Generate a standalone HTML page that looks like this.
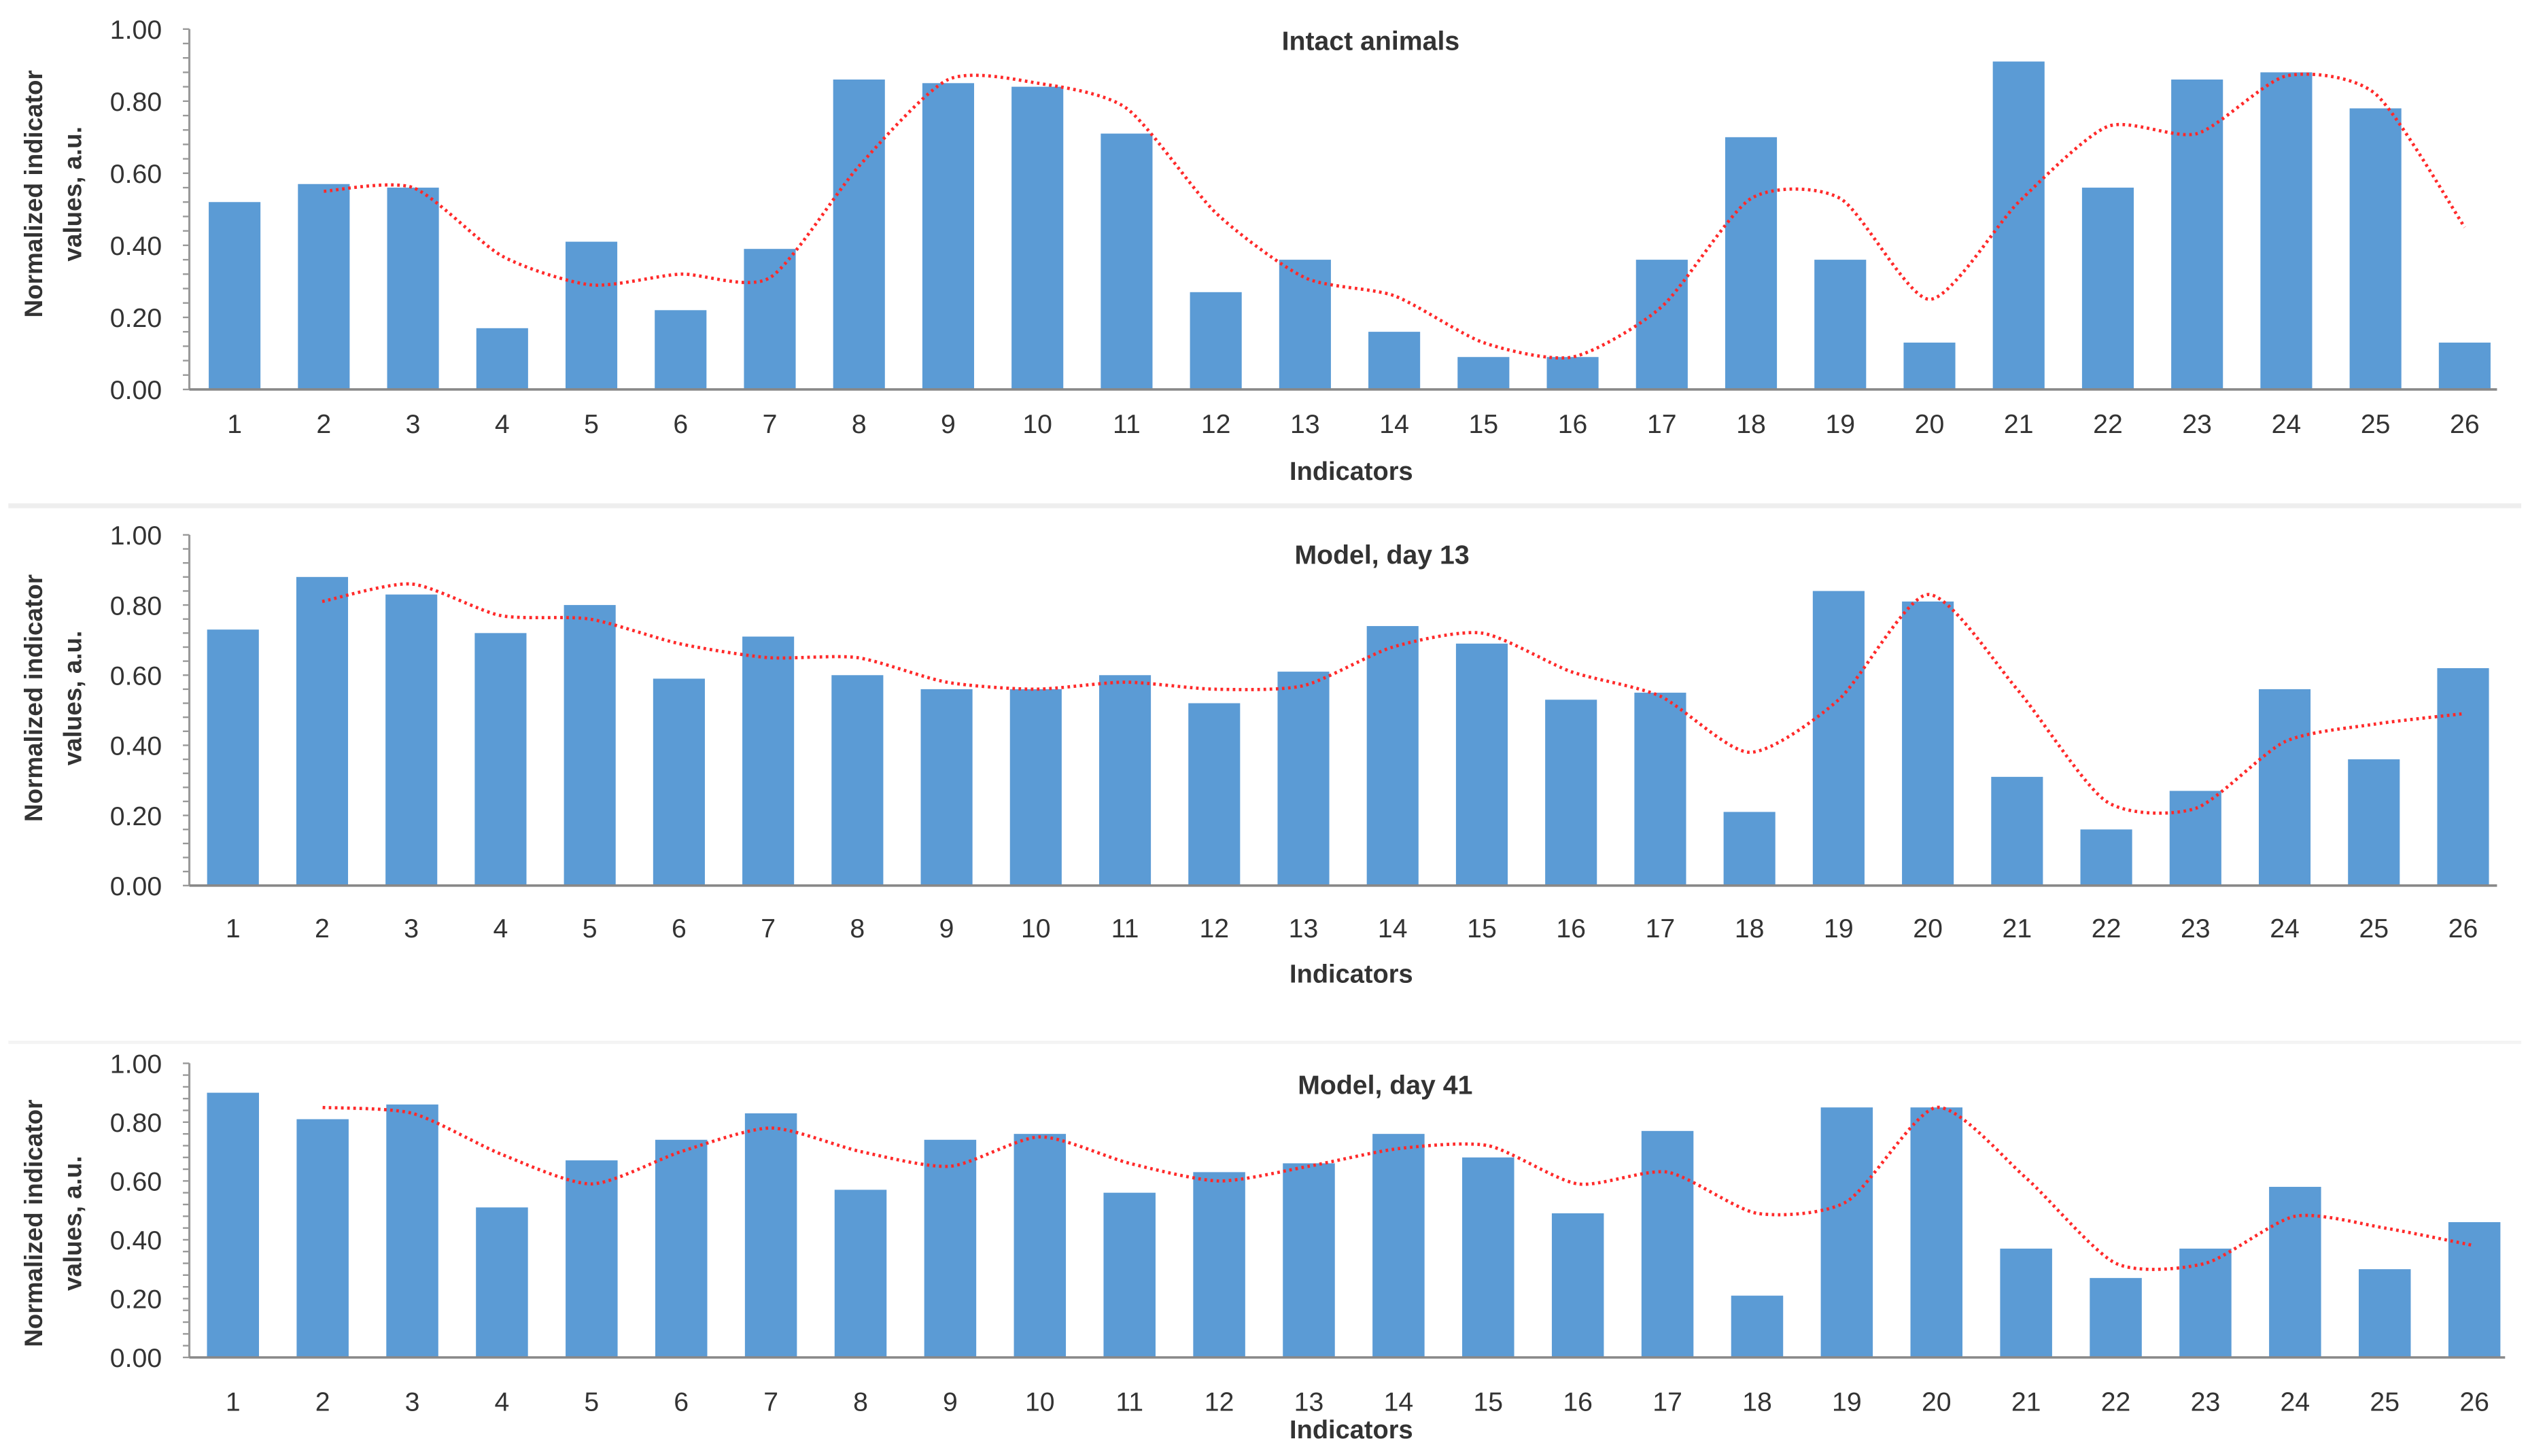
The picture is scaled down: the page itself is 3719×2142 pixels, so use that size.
<!DOCTYPE html>
<html><head><meta charset="utf-8"><style>
html,body{margin:0;padding:0;background:#fff;}
svg{display:block;}
text{font-family:"Liberation Sans",sans-serif;fill:#333;}
</style></head>
<body>
<svg id="chart" width="3719" height="2142" viewBox="0 0 1564 901" xmlns="http://www.w3.org/2000/svg">
<rect x="0" y="0" width="1564" height="901" fill="#fff"/>
<line x1="5" y1="313" x2="1560" y2="313" stroke="#eeeeee" stroke-width="3"/>
<line x1="5" y1="645" x2="1560" y2="645" stroke="#f4f4f4" stroke-width="2"/>
</svg>
<script>
const categories = ["1","2","3","4","5","6","7","8","9","10","11","12","13","14","15","16","17","18","19","20","21","22","23","24","25","26"];
const yTickLabels = ["0.00","0.20","0.40","0.60","0.80","1.00"];
const yTickValues = [0,0.2,0.4,0.6,0.8,1.0];
const titles = ["Intact animals","Model, day 13","Model, day 41"];
const barsIntact = [0.52,0.57,0.56,0.17,0.41,0.22,0.39,0.86,0.85,0.84,0.71,0.27,0.36,0.16,0.09,0.09,0.36,0.70,0.36,0.13,0.91,0.56,0.86,0.88,0.78,0.13];
const lineIntact = [null,0.55,0.56,0.37,0.29,0.32,0.31,0.62,0.86,0.85,0.78,0.49,0.31,0.26,0.13,0.09,0.23,0.53,0.53,0.25,0.52,0.73,0.71,0.87,0.82,0.45];
const barsDay13 = [0.73,0.88,0.83,0.72,0.80,0.59,0.71,0.60,0.56,0.56,0.60,0.52,0.61,0.74,0.69,0.53,0.55,0.21,0.84,0.81,0.31,0.16,0.27,0.56,0.36,0.62];
const lineDay13 = [null,0.81,0.86,0.77,0.76,0.69,0.65,0.65,0.58,0.56,0.58,0.56,0.57,0.68,0.72,0.61,0.54,0.38,0.53,0.83,0.56,0.24,0.22,0.41,0.46,0.49];
const barsDay41 = [0.90,0.81,0.86,0.51,0.67,0.74,0.83,0.57,0.74,0.76,0.56,0.63,0.66,0.76,0.68,0.49,0.77,0.21,0.85,0.85,0.37,0.27,0.37,0.58,0.30,0.46];
const lineDay41 = [null,0.85,0.83,0.69,0.59,0.70,0.78,0.70,0.65,0.75,0.66,0.60,0.65,0.71,0.72,0.59,0.63,0.49,0.53,0.85,0.61,0.32,0.32,0.48,0.44,0.38];

const NS = "http://www.w3.org/2000/svg";
const svg = document.getElementById('chart');
function mk(tag, attrs, parent){const e=document.createElementNS(NS,tag);for(const k in attrs)e.setAttribute(k,attrs[k]);(parent||svg).appendChild(e);return e;}

const panels = [
  {bars:barsIntact,line:lineIntact,top:18,bottom:241,x0:145,x1:1525,right:1545,lab:268,ind:297,titleX:848,titleY:31,yt:120,key:"intact"},
  {bars:barsDay13,line:lineDay13,top:331,bottom:548,x0:144,x1:1524,right:1545,lab:580,ind:608,titleX:855,titleY:349,yt:432,key:"day13"},
  {bars:barsDay41,line:lineDay41,top:658,bottom:840,x0:144,x1:1531,right:1550,lab:873,ind:890,titleX:857,titleY:677,yt:757,key:"day41"}
];

panels.forEach((p,pi)=>{
  const g = mk('g',{});
  
  
  const yScale = v => p.bottom - v*(p.bottom-p.top);
  const step = (p.x1-p.x0)/(categories.length-1);
  const xScale = i => p.x0 + i*step;
  const bw = step*0.58;
  p.bars.forEach((v,i)=>{
    const r = mk('rect',{x:xScale(i)-bw/2,y:yScale(v),width:bw,height:yScale(0)-yScale(v),fill:'#5b9bd5'},g);
    
    
  });
  const ax = mk('line',{x1:117,y1:p.top,x2:117,y2:p.bottom,stroke:'#999',"stroke-width":1.3},g);
  
  
  for(let k=0;k<=25;k++){
    const v=k*0.04; const y=yScale(v);
    mk('line',{x1:113,y1:y,x2:117,y2:y,stroke:'#999',"stroke-width":1},g);
  }
  const bx = mk('line',{x1:117,y1:p.bottom,x2:p.right,y2:p.bottom,stroke:'#888',"stroke-width":1.5},g);
  
  
  yTickLabels.forEach((t,i)=>{
    const e = mk('text',{x:100,y:yScale(yTickValues[i])+6,"text-anchor":"end","font-size":16.5},g);
    e.textContent=t;
    
    
  });
  categories.forEach((c,i)=>{
    const e = mk('text',{x:xScale(i),y:p.lab,"text-anchor":"middle","font-size":16.5},g);
    e.textContent=c;
    
    
  });
  const pts=[];
  p.line.forEach((v,i)=>{ if(v!==null) pts.push([xScale(i),yScale(v)]); });
  let d='M'+pts[0][0]+','+pts[0][1];
  for(let i=0;i<pts.length-1;i++){
    const p0=pts[Math.max(0,i-1)],p1=pts[i],p2=pts[i+1],p3=pts[Math.min(pts.length-1,i+2)];
    const t=0.12;
    const c1=[p1[0]+(p2[0]-p0[0])*t,p1[1]+(p2[1]-p0[1])*t];
    const c2=[p2[0]-(p3[0]-p1[0])*t,p2[1]-(p3[1]-p1[1])*t];
    d+=' C'+c1[0]+','+c1[1]+' '+c2[0]+','+c2[1]+' '+p2[0]+','+p2[1];
  }
  const ln = mk('path',{d:d,fill:'none',stroke:'#ff2a2a',"stroke-width":2,"stroke-dasharray":"1.6 2.2"},g);
  
  
  const tt = mk('text',{x:p.titleX,y:p.titleY,"text-anchor":"middle","font-size":16.5,"font-weight":"bold"},g);
  tt.textContent=titles[pi];
  
  
  const xt = mk('text',{x:836,y:p.ind,"text-anchor":"middle","font-size":16,"font-weight":"bold"},g);
  xt.textContent='Indicators';
  
  
  const yt = mk('text',{transform:'translate(26,'+p.yt+') rotate(-90)',"text-anchor":"middle","font-size":15.5,"font-weight":"bold"},g);
  
  
  const s1 = mk('tspan',{x:0,dy:0},yt); s1.textContent='Normalized indicator';
  const s2 = mk('tspan',{x:0,dy:24},yt); s2.textContent='values, a.u.';
});
</script>
</body></html>
